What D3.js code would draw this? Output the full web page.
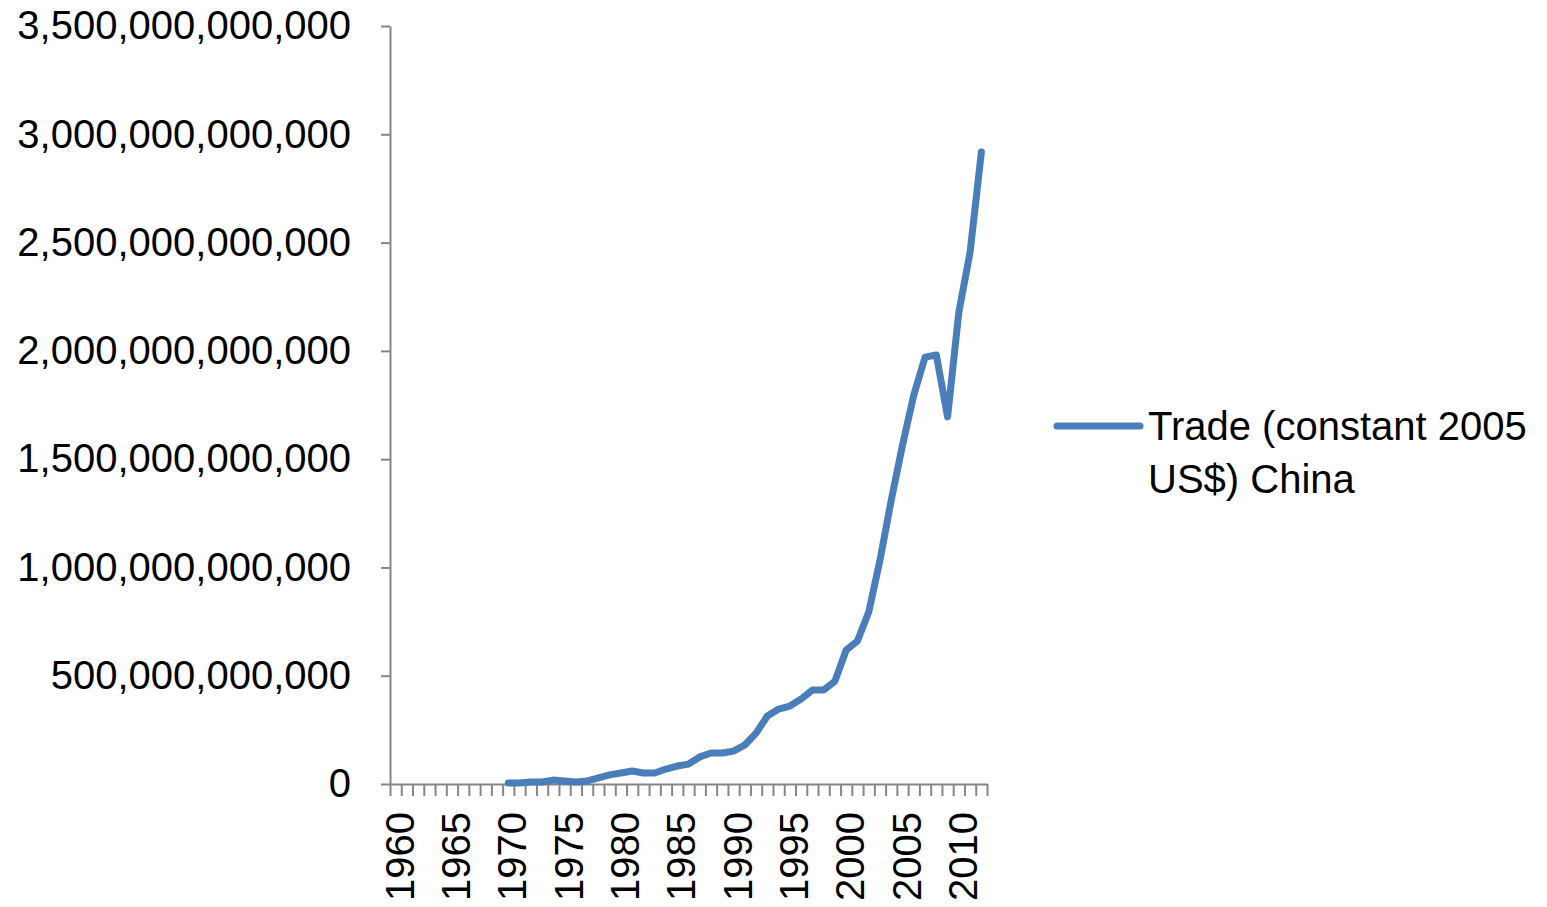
<!DOCTYPE html>
<html>
<head>
<meta charset="utf-8">
<script src="https://cdn.jsdelivr.net/npm/d3@7"></script>
<style>
  html, body { margin: 0; padding: 0; background: #fff; }
  svg { display: block; }
  text { font-family: "Liberation Sans", Arial, sans-serif; fill: #000; }
</style>
</head>
<body>
<svg id="chart" width="1547" height="907"></svg>
<script>
// ---- data ----
const years = d3.range(1960, 2013);
const dataYears = d3.range(1970, 2013);
// Trade (constant 2005 US$) China, billions of US$
const tradeBillions = [
  5, 5, 9, 9, 18, 14, 9, 14, 28, 42,
  51, 60, 51, 51, 69, 83, 92, 125, 143, 143,
  152, 180, 235, 314, 346, 360, 392, 434, 434, 475,
  619, 660, 794, 1034, 1311, 1565, 1796, 1971, 1981, 1695,
  2179, 2456, 2918
];
const yTicks = [0, 5e11, 1e12, 1.5e12, 2e12, 2.5e12, 3e12, 3.5e12];
const xLabelYears = [1960, 1965, 1970, 1975, 1980, 1985, 1990, 1995, 2000, 2005, 2010];
const seriesName = ["Trade (constant 2005", "US$) China"];

// ---- layout ----
const svg = d3.select("#chart");
const mLeft = 390, mRight = 987, mTop = 26, mBottom = 784;
const axisColor = "#868686";
const lineColor = "#4a7ebb";
const fontSize = 40;

const x = d3.scaleBand().domain(years).range([mLeft, mRight]).paddingInner(0).paddingOuter(0);
const xEdge = d3.scaleLinear().domain([1959.5, 2012.5]).range([mLeft, mRight]);
const y = d3.scaleLinear().domain([0, 3.5e12]).range([mBottom, mTop]);

// Y axis
const yAxis = svg.append("g")
  .attr("transform", `translate(${mLeft},0)`)
  .call(d3.axisLeft(y).tickValues(yTicks).tickFormat(d3.format(",.0f")).tickSize(9).tickSizeOuter(0).tickPadding(30));
yAxis.select(".domain").attr("stroke", axisColor).attr("stroke-width", 2);
yAxis.selectAll(".tick line").attr("stroke", axisColor).attr("stroke-width", 2);
yAxis.selectAll(".tick text").attr("font-size", fontSize).attr("font-family", "Liberation Sans, Arial, sans-serif").attr("fill", "#000");

// X axis ticks (category boundaries)
const xAxis = svg.append("g")
  .attr("transform", `translate(0,${mBottom})`)
  .call(d3.axisBottom(xEdge).tickValues(d3.range(1959.5, 2013, 1)).tickFormat("").tickSize(12).tickSizeOuter(0));
xAxis.select(".domain").attr("stroke", axisColor).attr("stroke-width", 2);
xAxis.selectAll(".tick line").attr("stroke", axisColor).attr("stroke-width", 2);

// X labels rotated
svg.append("g").selectAll("text")
  .data(xLabelYears)
  .join("text")
  .attr("transform", d => `translate(${x(d) + x.bandwidth() / 2 + 18},${mBottom + 28}) rotate(-90)`)
  .attr("text-anchor", "end")
  .attr("font-size", fontSize)
  .text(d => d);

// Line
const pts = dataYears.map((yr, i) => ({ yr, v: tradeBillions[i] * 1e9 }));
const line = d3.line()
  .x(d => x(d.yr) + x.bandwidth() / 2)
  .y(d => y(d.v));
svg.append("path")
  .datum(pts)
  .attr("d", line)
  .attr("fill", "none")
  .attr("stroke", lineColor)
  .attr("stroke-width", 7)
  .attr("stroke-linejoin", "round")
  .attr("stroke-linecap", "round");

// Legend
const lg = svg.append("g");
lg.append("line")
  .attr("x1", 1057).attr("x2", 1140).attr("y1", 426).attr("y2", 426)
  .attr("stroke", lineColor).attr("stroke-width", 7).attr("stroke-linecap", "round");
lg.selectAll("text")
  .data(seriesName)
  .join("text")
  .attr("x", 1148)
  .attr("y", (d, i) => 440 + i * 53)
  .attr("font-size", fontSize)
  .text(d => d);
</script>
</body>
</html>
